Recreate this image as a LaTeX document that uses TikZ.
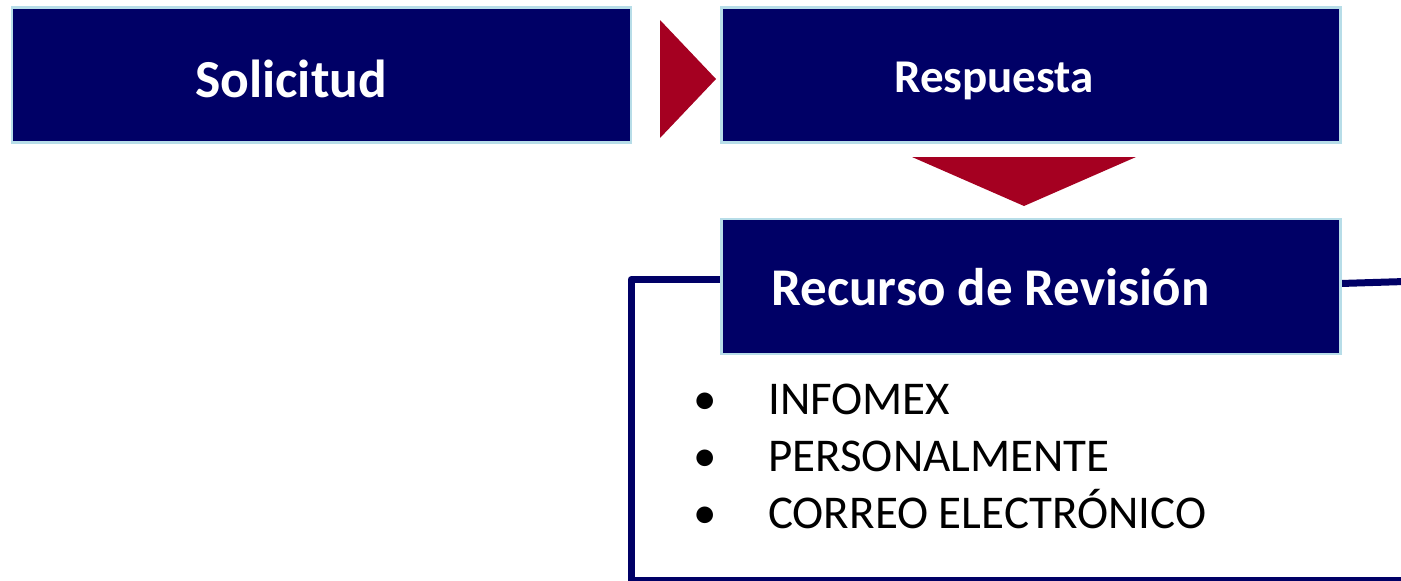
\documentclass[tikz,border=0pt]{standalone}
\usepackage{fontspec}
\setmainfont{Carlito}
\usetikzlibrary{backgrounds}
\definecolor{navy}{RGB}{0,0,102}
\definecolor{edge}{RGB}{183,221,232}
\definecolor{arrowred}{RGB}{165,0,33}
\begin{document}
\begin{tikzpicture}[x=1pt,y=-1pt,
  stagebox/.style={draw=edge, line width=2.5pt, fill=navy, inner sep=0pt, outer sep=0pt,
    minimum width=619pt, minimum height=135pt},
  title/.style={text=white, inner sep=0pt, anchor=base},
  item/.style={text=black, font=\fontsize{47}{56}\selectfont, inner sep=0pt, anchor=base west},
  bracket/.style={draw=navy, line width=7pt, line join=round},
  chevron/.style={fill=arrowred, draw=none}]
\useasboundingbox (0,0) rectangle (1401,581);
% boxes
\node[stagebox] (sol) at (321.5,75) {};
\node[stagebox] (res) at (1031,75) {};
\node[stagebox] (rec) at (1031,286.5) {};
% bracket behind the third box
\coordinate (tl) at (631,279.5);
\coordinate (bl) at (631,580);
\coordinate (br) at (1405,580);
\coordinate (rr) at (1405,281.5);
\begin{pgfonlayer}{background}
\draw[bracket] ([yshift=7pt]rec.west) -- (tl) -- (bl) -- (br);
\draw[bracket] ([yshift=3pt]rec.east) -- (rr);
\end{pgfonlayer}
% titles
\node[title, font=\bfseries\fontsize{53.5}{64}\selectfont] (solt) at (291,97) {Solicitud};
\node[title, font=\bfseries\fontsize{47}{56}\selectfont] (rest) at (994,92) {Respuesta};
\node[title, font=\bfseries\fontsize{53}{64}\selectfont] (rect) at (990.5,305) {Recurso de Revisión};
% arrows
\fill[chevron] (660,20) -- (716,79) -- (660,138) -- cycle;
\fill[chevron] (912,157) -- (1136,157) -- (1024,206) -- cycle;
% list
\node[item] (b1) at (693,414) {•};
\node[item] (i1) at (768,414) {INFOMEX};
\node[item] (b2) at (693,471) {•};
\node[item] (i2) at (768,471) {PERSONALMENTE};
\node[item] (b3) at (693,528) {•};
\node[item] (i3) at (768,528) {CORREO ELECTRÓNICO};
\end{tikzpicture}
\end{document}
